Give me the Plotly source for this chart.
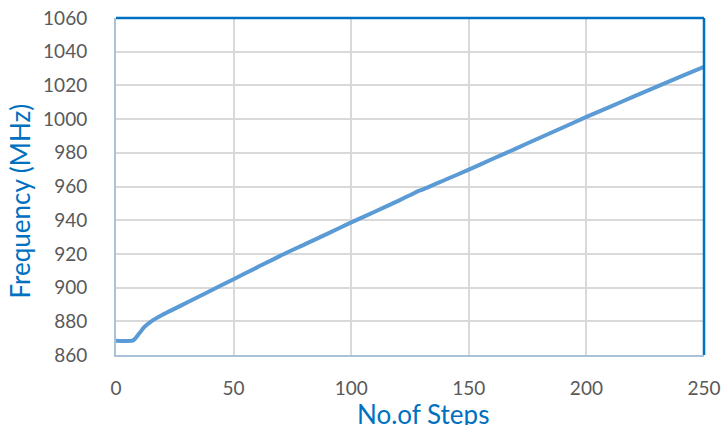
import plotly.graph_objects as go

steps = [0, 7, 8, 10, 12, 15, 20, 25, 30, 40, 50, 60, 70, 80, 90, 100, 110, 120,
         126, 128, 130, 140, 150, 160, 170, 180, 190, 200, 210, 220, 230, 240, 250]
freq_mhz = [868.5, 868.5, 869.5, 873, 876.5, 880, 884, 887.5, 891, 898, 905, 912,
            919, 925.5, 932, 938.7, 945, 951.5, 955.5, 957, 958, 964, 970, 976.3,
            982.5, 988.8, 995, 1001.3, 1007.3, 1013.3, 1019.3, 1025.2, 1031]

x_ticks = [0, 50, 100, 150, 200, 250]
y_ticks = list(range(860, 1061, 20))

FONT = "Lato"
TICK_COLOR = "#595959"
TITLE_COLOR = "#0070C0"

fig = go.Figure()
fig.add_trace(go.Scatter(
    x=steps, y=freq_mhz, mode="lines",
    line=dict(color="#5B9BD5", width=4, shape="spline", smoothing=0.6),
    hoverinfo="x+y", showlegend=False,
))

fig.update_layout(
    width=722, height=425,
    margin=dict(l=116, r=18, t=18, b=70, autoexpand=False),
    paper_bgcolor="white", plot_bgcolor="white",
    font=dict(family=FONT, color=TICK_COLOR, size=19),
    shapes=[
        dict(type="line", xref="paper", yref="paper", x0=0, x1=1, y0=1, y1=1,
             line=dict(color="#0070C0", width=2.5)),
        dict(type="line", xref="paper", yref="paper", x0=1, x1=1, y0=0, y1=1,
             line=dict(color="#0070C0", width=2.5)),
    ],
    annotations=[
        dict(text="Frequency (MHz)", xref="paper", yref="paper", x=0, y=0.5,
             xanchor="center", yanchor="middle",
             xshift=-97, yshift=-15, textangle=-90, showarrow=False,
             font=dict(family=FONT, size=26, color=TITLE_COLOR)),
        dict(text="No.of Steps", xref="paper", yref="paper", x=0.5, y=0,
             xanchor="center", yanchor="middle", xshift=13,
             yshift=-59, showarrow=False,
             font=dict(family=FONT, size=26, color=TITLE_COLOR)),
    ],
)
fig.update_xaxes(
    range=[0, 250], tickvals=x_ticks, ticktext=[str(v) for v in x_ticks],
    showgrid=True, gridcolor="#D9D9D9", gridwidth=1.5,
    showline=True, linecolor="#A9C1D9", linewidth=2, automargin=False,
    zeroline=False, ticks="", ticklabelstandoff=15,
    tickfont=dict(family=FONT, size=19, color=TICK_COLOR),
)
fig.update_yaxes(
    range=[860, 1060], tickvals=y_ticks, ticktext=[str(v) for v in y_ticks],
    showgrid=True, gridcolor="#D9D9D9", gridwidth=1.5,
    showline=True, linecolor="#A9C1D9", linewidth=2, automargin=False,
    zeroline=False, ticks="", ticklabelstandoff=23,
    tickfont=dict(family=FONT, size=19, color=TICK_COLOR),
)

fig.write_html(
    "out.html",
    config={"displayModeBar": False},
    post_script="document.body.style.margin='0';document.body.style.overflow='hidden';",
)
